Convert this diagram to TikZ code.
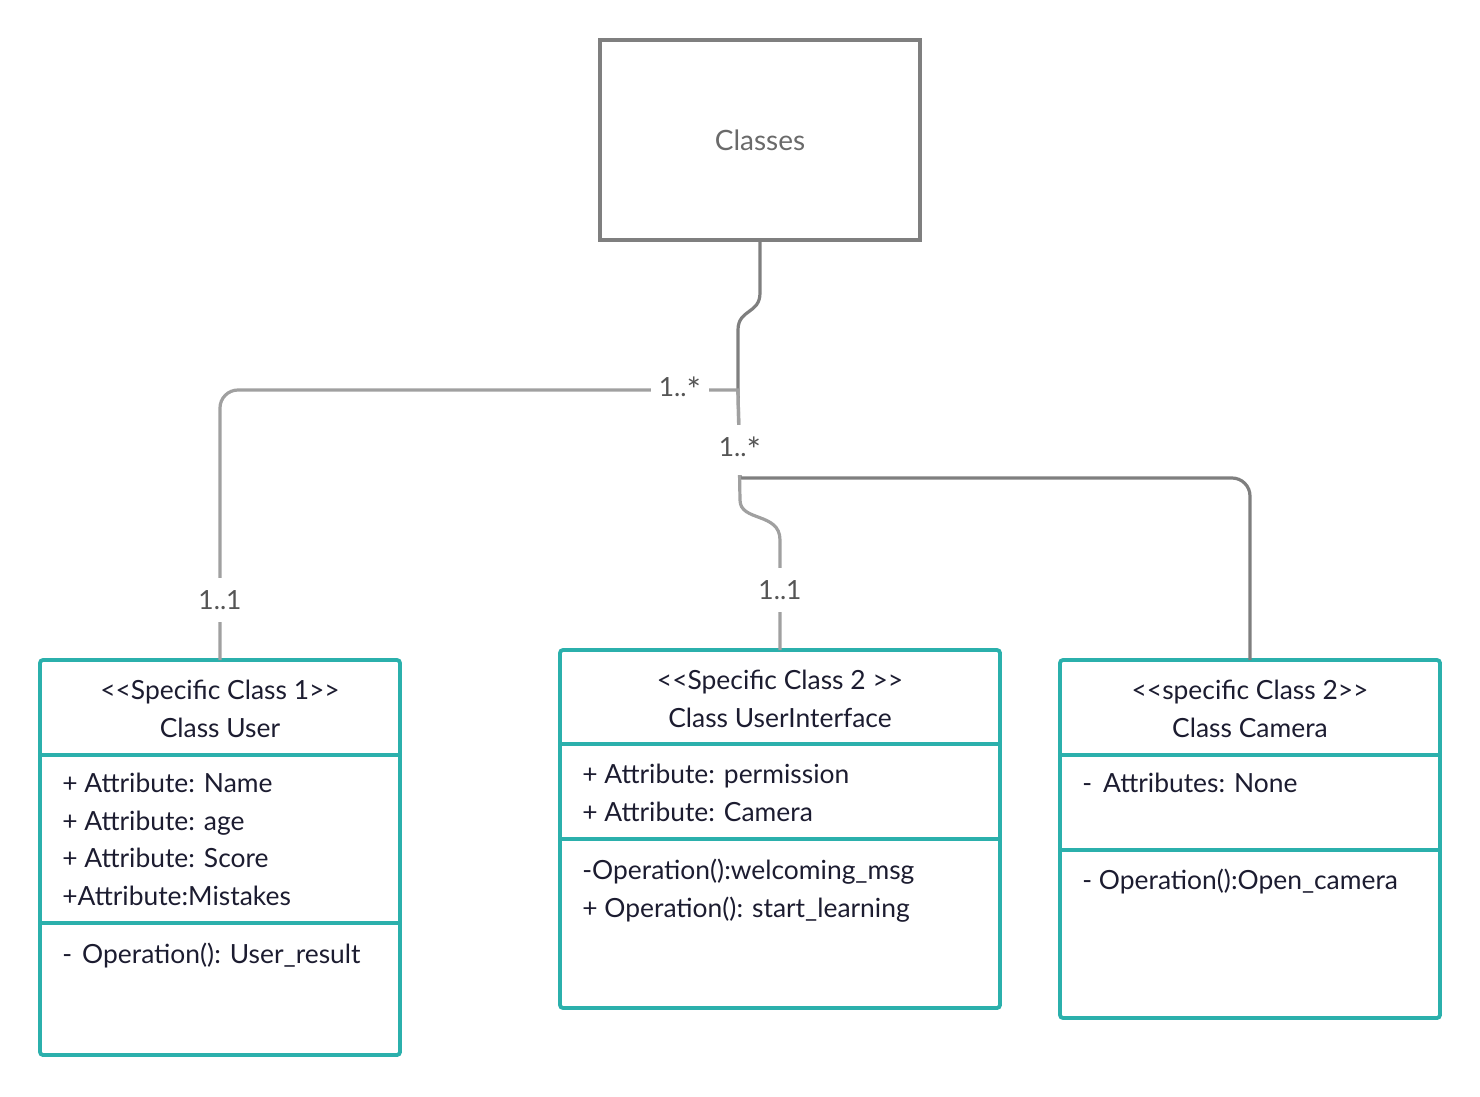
\documentclass[tikz,border=0pt]{standalone}
\usepackage{fontspec}
\setmainfont{Lato}[Ligatures=TeXOff]
\usetikzlibrary{positioning}
\definecolor{UmlTeal}{HTML}{2BB0AC}
\definecolor{UmlInk}{HTML}{1C1C30}
\definecolor{LinkDark}{HTML}{7F7F7F}
\definecolor{LinkLight}{HTML}{A0A0A0}
\definecolor{LabelGray}{HTML}{555555}
\definecolor{ClassGray}{HTML}{6A6A6A}
\newcommand{\umlfont}{\fontsize{13.2pt}{16pt}\selectfont}
\newcommand{\many}{{\fontsize{17pt}{16pt}\selectfont\raisebox{-0.18em}{*}}}

\begin{document}
\begin{tikzpicture}[x=0.5pt, y=-0.5pt,
  classbox/.style={draw=UmlTeal, line width=1.9pt, rounded corners=1.5pt, inner sep=0pt, outer sep=0pt, anchor=north west},
  divider/.style={draw=UmlTeal, line width=1.9pt},
  txt/.style={font=\umlfont, text=UmlInk, inner sep=0pt},
  linkdark/.style={draw=LinkDark, line width=1.6pt},
  linklight/.style={draw=LinkLight, line width=1.6pt},
  mult/.style={font=\umlfont, text=LabelGray, fill=white, inner xsep=4pt, inner ysep=6pt}]
\useasboundingbox (0,0) rectangle (1480,1097);

% Generic class on top
\node[draw=LinkDark, line width=1.9pt, minimum width=160pt, minimum height=100pt, inner sep=0pt, outer sep=0pt, font=\fontsize{14pt}{16pt}\selectfont, text=ClassGray] (classes) at (760,140) {Classes};

% The three specific classes
\node[classbox, minimum width=180pt, minimum height=197.5pt] (user) at (40,660) {};
\node[classbox, minimum width=220pt, minimum height=179pt] (ui) at (560,650) {};
\node[classbox, minimum width=190pt, minimum height=179pt] (camera) at (1060,660) {};

% Compartment lines
\draw[divider] (40,755) -- (400,755) (40,923) -- (400,923);
\draw[divider] (560,744) -- (1000,744) (560,839) -- (1000,839);
\draw[divider] (1060,755) -- (1440,755) (1060,850) -- (1440,850);

% Class names
\foreach \x/\y/\txt [count=\i] in {
  220/690/{<<Specific Class 1>>},
  220/728/Class User,
  780/680/{<<Specific Class 2 >>},
  780/718/Class UserInterface,
  1250/690/{<<specific Class 2>>},
  1250/728/Class Camera}
{
  \node[txt, anchor=base] (head\i) at (\x,\y+9) {\txt};
}

% Attributes and operations
\foreach \x/\y/\txt [count=\i] in {
  62/783/+ Attribute: Name,
  62/821/+ Attribute: age,
  62/858/+ Attribute: Score,
  62/896/+Attribute:Mistakes,
  62/954/-\hspace{5pt}Operation(): User\_result,
  582/774/+ Attribute: permission,
  582/812/+ Attribute: Camera,
  582/870/-Operation():welcoming\_msg,
  582/908/+ Operation(): start\_learning,
  1082/783/-\hspace{5.5pt}Attributes: None,
  1082/880/- Operation():Open\_camera}
{
  \node[txt, anchor=base west] (member\i) at (\x,\y+9) {\txt};
}

% Connectors
\coordinate (junction) at (738,390);
\coordinate (fork) at (740,478);
\draw[linkdark] (classes.south) -- (760,293) .. controls (760,314) and (738,309) .. (738,330)
  -- (junction) -- (fork) -- (1000,478) [rounded corners=9pt] -- (1250,478) -- (camera.north);
\draw[linklight] (user.north) [rounded corners=9pt] -- (220,390) -- (400,390) [sharp corners]
  -- (junction) -- (740,500) .. controls (740,522) and (780,512) .. (780,540) -- (ui.north);

% Multiplicities
\node[mult] (multA) at (680,390) {1..\many};
\node[mult] (multB) at (740,450) {1..\many};
\node[mult] (multC) at (220,600) {1..1};
\node[mult] (multD) at (780,590) {1..1};
\end{tikzpicture}
\end{document}
